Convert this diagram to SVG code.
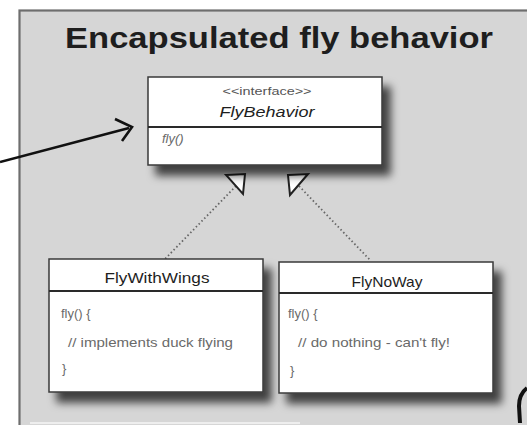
<svg xmlns="http://www.w3.org/2000/svg" width="527" height="425" viewBox="0 0 527 425">
<style>
.box{fill:#fff;stroke:#3a3a3a;stroke-width:1.5}
.div{stroke:#2a2a2a;stroke-width:1.8}
.title{font-family:"Liberation Sans",Arial,sans-serif;font-size:15px;fill:#1e1e1e;text-anchor:middle}
.body{font-family:"Liberation Sans",Arial,sans-serif;font-size:13px;fill:#6a6a6a}
.dot{stroke:#666;stroke-width:1.8;stroke-dasharray:1.5 2.5;fill:none}
.tri{fill:#fff;stroke:#222;stroke-width:2;stroke-linejoin:miter}
</style>
<defs>
<filter id="sh" x="-20%" y="-20%" width="150%" height="160%">
<feDropShadow dx="8" dy="10" stdDeviation="4" flood-color="#000" flood-opacity="0.7"/>
</filter>
</defs>
<rect x="0" y="0" width="527" height="425" fill="#fff"/>
<rect x="19.5" y="10.5" width="520" height="420" fill="#d6d6d6" stroke="#6e6e6e" stroke-width="2.2"/>
<line x1="30" y1="423" x2="300" y2="423" stroke="#eeeeee" stroke-width="2"/>
<text x="279" y="48" font-family="Liberation Sans,Arial,sans-serif" font-weight="bold" font-size="30" fill="#1e1e1e" text-anchor="middle" textLength="428" lengthAdjust="spacingAndGlyphs">Encapsulated fly behavior</text>
<g id="connectors">
<path class="dot" d="M236,186 L165,259"/>
<path class="dot" d="M299,186 L370,260"/>
<polygon class="tri" points="226,175 245,174 243,194"/>
<polygon class="tri" points="288,175 308,174 290,195"/>
<path d="M0,162 L129,128" stroke="#111" stroke-width="2.6" fill="none"/>
<path d="M115,119 L132,127 L122,141" stroke="#111" stroke-width="2.6" fill="none" stroke-linejoin="miter"/>
</g>
<g id="FlyBehavior">
<rect class="box" x="148" y="77" width="234" height="88" filter="url(#sh)"/>
<line class="div" x1="148" y1="127" x2="382" y2="127"/>
<text x="267" y="95" font-family="Liberation Sans,Arial,sans-serif" font-size="10" fill="#555" text-anchor="middle" textLength="89" lengthAdjust="spacingAndGlyphs">&lt;&lt;interface&gt;&gt;</text>
<text x="267" y="117" font-family="Liberation Sans,Arial,sans-serif" font-size="14" font-style="italic" fill="#1e1e1e" text-anchor="middle" textLength="95" lengthAdjust="spacingAndGlyphs">FlyBehavior</text>
<text x="162" y="143" font-family="Liberation Sans,Arial,sans-serif" font-size="13" font-style="italic" fill="#6a6a6a">fly()</text>
</g>
<g id="FlyWithWings">
<rect class="box" x="49" y="259" width="214" height="133" filter="url(#sh)"/>
<line class="div" x1="49" y1="291" x2="263" y2="291"/>
<text class="title" x="157" y="283" textLength="105" lengthAdjust="spacingAndGlyphs">FlyWithWings</text>
<text class="body" x="61" y="318">fly() {</text>
<text class="body" x="68" y="347" textLength="165" lengthAdjust="spacingAndGlyphs">// implements duck flying</text>
<text class="body" x="62" y="373">}</text>
</g>
<g id="FlyNoWay">
<rect class="box" x="279" y="262" width="214" height="131" filter="url(#sh)"/>
<line class="div" x1="279" y1="293" x2="493" y2="293"/>
<text class="title" x="387" y="287" textLength="71" lengthAdjust="spacingAndGlyphs">FlyNoWay</text>
<text class="body" x="288" y="318">fly() {</text>
<text class="body" x="298" y="347" textLength="152" lengthAdjust="spacingAndGlyphs">// do nothing - can't fly!</text>
<text class="body" x="290" y="375">}</text>
</g>
<path d="M527,388 Q519,394 519,406 L520,423" stroke="#111" stroke-width="4" fill="none"/>
</svg>
